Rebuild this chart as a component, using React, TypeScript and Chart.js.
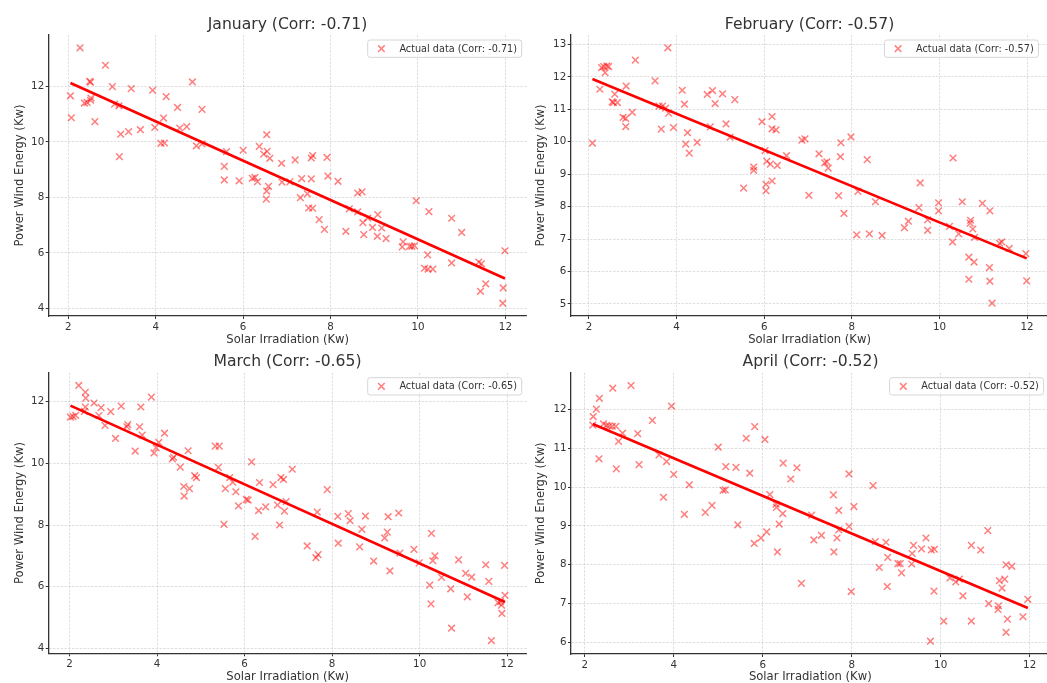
import React, { useEffect, useRef } from "react";
import { Chart, registerables } from "chart.js";

Chart.register(...registerables);

const FONT = "'DejaVu Sans', 'Noto Sans', sans-serif";
Chart.defaults.font.family = FONT;

// ---- Data: solar irradiation (x) vs wind power (y), per month ----
const janX = [2.27, 2.85, 2.05, 2.07, 2.49, 2.51, 2.37, 2.43, 2.51, 2.52, 2.61, 3.01, 3.06, 3.16, 3.2, 3.38, 3.17, 3.44, 3.65, 3.93, 3.98, 4.24, 4.18, 4.12, 4.2, 4.5, 4.55, 4.71, 4.84, 5.06, 4.93, 5.06, 5.57, 5.57, 5.62, 5.91, 6.0, 6.21, 6.27, 6.33, 6.37, 6.47, 6.54, 6.55, 6.61, 6.58, 6.54, 6.53, 6.88, 6.89, 7.07, 7.19, 7.34, 7.56, 7.59, 7.92, 7.56, 7.31, 7.47, 7.5, 7.59, 7.74, 7.86, 7.94, 8.17, 8.35, 8.43, 8.62, 8.62, 8.72, 8.74, 8.76, 8.85, 8.96, 9.08, 9.07, 9.17, 9.27, 9.66, 9.64, 9.81, 9.86, 9.92, 9.96, 10.25, 10.22, 10.15, 10.23, 10.34, 10.77, 11.0, 10.77, 11.39, 11.45, 11.43, 11.55, 11.99, 11.95, 11.94];
const janY = [13.39, 12.76, 11.66, 10.87, 12.18, 12.15, 11.4, 11.42, 11.5, 11.58, 10.73, 11.99, 11.36, 11.3, 10.28, 10.37, 9.47, 11.92, 10.44, 11.86, 10.52, 11.63, 10.86, 9.95, 9.96, 11.24, 10.5, 10.55, 12.16, 11.17, 9.86, 9.93, 9.12, 8.63, 9.65, 8.6, 9.7, 8.69, 8.72, 8.57, 9.84, 9.56, 10.26, 9.66, 9.41, 8.4, 8.23, 7.94, 9.23, 8.55, 8.56, 9.35, 8.68, 9.42, 9.51, 9.44, 8.67, 7.99, 8.13, 7.62, 7.61, 7.2, 6.85, 8.77, 8.58, 6.78, 7.59, 7.48, 8.16, 8.2, 7.09, 6.66, 7.26, 6.92, 7.38, 6.6, 6.9, 6.52, 6.4, 6.22, 6.24, 6.24, 6.26, 7.88, 7.49, 5.93, 5.45, 5.42, 5.42, 7.25, 6.74, 5.64, 5.67, 5.61, 4.62, 4.89, 6.08, 4.74, 4.19];

const febX = [2.08, 2.25, 2.29, 2.34, 2.37, 2.41, 2.45, 2.53, 2.59, 2.56, 2.65, 2.78, 2.84, 2.85, 2.84, 2.99, 3.06, 3.51, 3.8, 3.6, 3.68, 3.75, 3.82, 3.65, 3.93, 4.13, 4.18, 4.25, 4.21, 4.29, 4.47, 4.7, 4.82, 4.88, 5.05, 4.77, 5.13, 5.33, 5.22, 5.53, 5.76, 5.76, 5.95, 6.02, 6.06, 6.04, 6.04, 6.14, 6.18, 6.18, 6.27, 6.18, 6.3, 6.51, 6.86, 6.93, 7.02, 7.25, 7.38, 7.43, 7.46, 7.75, 7.74, 7.7, 7.82, 7.98, 8.14, 8.11, 8.35, 8.4, 8.54, 8.69, 9.2, 9.29, 9.53, 9.56, 9.73, 9.73, 9.98, 9.98, 10.3, 10.23, 10.31, 10.44, 10.52, 10.67, 10.67, 10.7, 10.71, 10.76, 10.8, 10.79, 10.98, 11.15, 11.14, 11.15, 11.2, 11.37, 11.42, 11.59, 11.97, 11.99];
const febY = [9.96, 11.62, 12.29, 12.32, 12.13, 12.34, 12.32, 11.23, 11.47, 11.21, 11.21, 10.75, 10.72, 11.72, 10.47, 10.91, 12.52, 11.88, 12.9, 11.1, 11.1, 11.04, 10.88, 10.39, 10.44, 11.59, 11.16, 10.28, 9.93, 9.65, 9.98, 11.46, 11.58, 11.18, 11.48, 10.46, 10.55, 11.3, 10.14, 8.57, 9.22, 9.12, 10.62, 9.73, 9.4, 8.69, 8.49, 9.31, 10.78, 10.4, 10.37, 8.79, 9.27, 9.57, 10.05, 10.09, 8.35, 9.63, 9.35, 9.38, 9.19, 9.97, 9.54, 8.34, 7.79, 10.15, 8.47, 7.13, 9.45, 7.16, 8.15, 7.11, 7.35, 7.55, 7.97, 8.73, 7.59, 7.27, 8.12, 7.87, 6.91, 7.39, 9.5, 7.16, 8.15, 6.44, 5.76, 7.49, 7.58, 7.31, 7.05, 6.29, 8.1, 7.87, 6.12, 5.7, 5.02, 6.87, 6.91, 6.71, 6.55, 5.71];

const marX = [2.02, 2.08, 2.14, 2.21, 2.36, 2.37, 2.36, 2.34, 2.56, 2.67, 2.72, 2.81, 2.94, 3.05, 3.18, 3.33, 3.31, 3.5, 3.6, 3.63, 3.66, 3.87, 3.93, 3.98, 4.04, 4.17, 4.35, 4.38, 4.53, 4.71, 4.61, 4.62, 4.74, 4.86, 4.9, 5.33, 5.42, 5.4, 5.53, 5.56, 5.66, 5.73, 5.8, 5.86, 6.04, 6.08, 6.16, 6.24, 6.32, 6.34, 6.48, 6.65, 6.75, 6.83, 6.89, 6.8, 6.91, 6.95, 7.09, 7.89, 7.43, 7.66, 7.63, 7.68, 8.13, 8.14, 8.37, 8.41, 8.68, 8.63, 8.76, 8.95, 9.2, 9.26, 9.28, 9.32, 9.52, 9.55, 9.87, 9.99, 10.27, 10.3, 10.35, 10.23, 10.26, 10.5, 10.71, 10.89, 10.73, 11.05, 11.19, 11.09, 11.51, 11.58, 11.64, 11.94, 11.95, 11.79, 11.85, 11.87, 11.88];
const marY = [11.5, 11.52, 11.56, 12.53, 12.31, 12.12, 11.83, 11.69, 11.96, 11.55, 11.81, 11.23, 11.68, 10.81, 11.86, 11.26, 11.19, 10.4, 11.19, 11.83, 10.92, 12.15, 10.34, 10.51, 10.68, 10.98, 10.15, 10.2, 9.88, 10.41, 9.25, 8.94, 9.18, 9.6, 9.54, 10.56, 10.56, 9.87, 8.02, 9.18, 9.54, 9.39, 9.08, 8.62, 8.83, 8.81, 10.05, 7.63, 8.47, 9.38, 8.59, 9.31, 8.65, 9.54, 9.48, 8.0, 8.45, 8.76, 9.81, 9.15, 7.32, 8.42, 6.94, 7.04, 8.28, 7.41, 8.37, 8.14, 7.86, 7.29, 8.29, 6.83, 7.58, 7.77, 8.27, 6.51, 8.39, 7.09, 7.21, 6.77, 7.73, 6.84, 7.0, 6.05, 5.44, 6.3, 5.93, 6.87, 4.65, 6.43, 6.31, 5.67, 6.71, 6.17, 4.25, 6.69, 5.72, 5.48, 5.51, 5.4, 5.13];

const aprX = [2.18, 2.19, 2.26, 2.33, 2.32, 2.42, 2.49, 2.55, 2.63, 2.62, 2.7, 2.71, 2.76, 2.85, 3.04, 3.19, 3.22, 3.52, 3.67, 3.77, 3.84, 3.95, 4.0, 4.24, 4.35, 4.71, 4.86, 5.0, 5.11, 5.16, 5.17, 5.4, 5.44, 5.63, 5.71, 5.82, 5.81, 5.96, 6.09, 6.05, 6.16, 6.3, 6.31, 6.37, 6.33, 6.45, 6.46, 6.63, 6.77, 6.87, 7.1, 7.15, 7.32, 7.59, 7.6, 7.67, 7.71, 7.71, 7.94, 7.94, 7.99, 8.05, 8.48, 8.53, 8.62, 8.77, 8.81, 8.8, 9.04, 9.09, 9.12, 9.36, 9.39, 9.35, 9.57, 9.67, 9.79, 9.86, 9.85, 9.77, 10.07, 10.21, 10.34, 10.42, 10.5, 10.69, 10.69, 10.9, 11.06, 11.08, 11.3, 11.29, 11.32, 11.38, 11.44, 11.47, 11.6, 11.5, 11.47, 11.85, 11.96];
const aprY = [11.6, 11.82, 12.01, 12.29, 10.73, 11.63, 11.59, 11.58, 12.55, 11.57, 11.57, 10.47, 11.18, 11.39, 12.62, 11.38, 10.58, 11.72, 10.83, 9.74, 10.66, 12.09, 10.33, 9.3, 10.06, 9.35, 9.53, 11.03, 9.92, 9.93, 10.53, 10.51, 9.03, 11.26, 10.36, 11.56, 8.55, 8.69, 8.85, 11.23, 9.81, 9.56, 9.48, 9.05, 8.33, 9.32, 10.62, 10.21, 10.5, 7.52, 9.28, 8.64, 8.76, 9.8, 8.33, 8.69, 9.4, 8.9, 10.34, 8.99, 7.31, 9.5, 10.04, 8.6, 7.93, 8.58, 8.19, 7.44, 8.03, 8.03, 7.79, 8.29, 8.5, 8.02, 8.41, 8.69, 8.38, 8.4, 7.32, 6.03, 6.55, 7.66, 7.56, 7.63, 7.2, 8.5, 6.55, 8.38, 8.88, 7.0, 6.94, 6.85, 7.59, 7.4, 7.63, 8.0, 7.96, 6.6, 6.26, 6.66, 7.11];

const monthNames = ["January", "February", "March", "April"];
const corrValues = ["-0.71", "-0.57", "-0.65", "-0.52"];
const xTicks = [2, 4, 6, 8, 10, 12];
const janYTicks = [4, 6, 8, 10, 12];
const febYTicks = [5, 6, 7, 8, 9, 10, 11, 12, 13];
const marYTicks = [4, 6, 8, 10, 12];
const aprYTicks = [6, 7, 8, 9, 10, 11, 12];

const xLabel = "Solar Irradiation (Kw)";
const yLabel = "Power Wind Energy (Kw)";

// ---- Layout (page pixels) ----
type Geo = {
  top: number; height: number; left: number;
  plot: { l: number; t: number; r: number; b: number };
  titleCY: number; xTitleCY: number; yTitleCX: number; legendInset: number;
};
const geos: Geo[] = [
  { left: 0, top: 0, height: 350, plot: { l: 48.7, t: 35, r: 526.7, b: 316 }, titleCY: 24.5, xTitleCY: 339.8, yTitleCX: 20, legendInset: 5 },
  { left: 528, top: 0, height: 350, plot: { l: 570.7, t: 35, r: 1048.4, b: 316 }, titleCY: 24.5, xTitleCY: 339.8, yTitleCX: 541.3, legendInset: 10 },
  { left: 0, top: 345, height: 338, plot: { l: 48.7, t: 372.7, r: 526.7, b: 653.3 }, titleCY: 362, xTitleCY: 677, yTitleCX: 20, legendInset: 5 },
  { left: 528, top: 345, height: 338, plot: { l: 571, t: 372.7, r: 1049.6, b: 654 }, titleCY: 362, xTitleCY: 677, yTitleCX: 541.3, legendInset: 6 },
];

const TEXT = "#333333";
const TITLE_SIZE = 15.6;
const AXIS_TITLE_SIZE = 11.6;
const TICK_SIZE = 10.3;
const LEGEND_SIZE = 9.7;
const POINT_COLOR = "rgba(255, 0, 0, 0.5)";

function fitLine(xs: number[], ys: number[]) {
  const n = xs.length;
  const mx = xs.reduce((a, b) => a + b, 0) / n;
  const my = ys.reduce((a, b) => a + b, 0) / n;
  let sxy = 0, sxx = 0;
  for (let i = 0; i < n; i++) {
    sxy += (xs[i] - mx) * (ys[i] - my);
    sxx += (xs[i] - mx) ** 2;
  }
  const slope = sxy / sxx;
  const icpt = my - slope * mx;
  const x0 = Math.min(...xs), x1 = Math.max(...xs);
  return [{ x: x0, y: icpt + slope * x0 }, { x: x1, y: icpt + slope * x1 }];
}

function paddedRange(vals: number[]) {
  const lo = Math.min(...vals), hi = Math.max(...vals);
  const m = (hi - lo) * 0.05;
  return [lo - m, hi + m];
}

// Boxed legend drawn inside the top-right corner of the plot area
const cornerLegend = {
  id: "cornerLegend",
  afterDatasetsDraw(chart: any, _args: any, opts: any) {
    if (!opts || !opts.text) return;
    const { ctx, chartArea } = chart;
    ctx.save();
    ctx.font = `${LEGEND_SIZE}px ${FONT}`;
    const tw = ctx.measureText(opts.text).width;
    const h = 17.3;
    const w = 31.7 + tw + 4.7;
    const x = chartArea.right - opts.inset - w;
    const y = chartArea.top + 5;
    ctx.beginPath();
    ctx.roundRect(x, y, w, h, 2.5);
    ctx.fillStyle = "rgba(255,255,255,0.8)";
    ctx.fill();
    ctx.strokeStyle = "#d6d6d6";
    ctx.lineWidth = 1;
    ctx.stroke();
    const mx = x + 13.7, my = y + h / 2, a = 3.3;
    ctx.strokeStyle = POINT_COLOR;
    ctx.lineWidth = 1.5;
    ctx.beginPath();
    ctx.moveTo(mx - a, my - a); ctx.lineTo(mx + a, my + a);
    ctx.moveTo(mx - a, my + a); ctx.lineTo(mx + a, my - a);
    ctx.stroke();
    ctx.fillStyle = TEXT;
    ctx.textBaseline = "middle";
    ctx.textAlign = "left";
    ctx.fillText(opts.text, x + 31.7, my + 0.5);
    ctx.restore();
  },
};

function ScatterPanel(props: { xs: number[]; ys: number[]; yTicks: number[]; month: string; corr: string; geo: Geo }) {
  const { xs, ys, yTicks, month, corr, geo } = props;
  const ref = useRef<HTMLCanvasElement>(null);
  const center = (geo.plot.l + geo.plot.r) / 2;
  // whole-pixel canvas width, roughly symmetric around the plot centre
  const width = Math.round(2 * (center - geo.left));
  const height = geo.height;

  useEffect(() => {
    const canvas = ref.current;
    if (!canvas) return;
    const [xMin, xMax] = paddedRange(xs);
    const [yMin, yMax] = paddedRange(ys);
    const pts = xs.map((x, i) => ({ x, y: ys[i] }));
    const line = fitLine(xs, ys);

    const yAxisW = geo.plot.l - geo.left;
    const rightW = geo.left + width - geo.plot.r;
    const xAxisH = geo.top + height - geo.plot.b;
    const titleLH = TITLE_SIZE * 1.2;
    const titleTop = geo.titleCY - geo.top - titleLH / 2;
    const titleBottom = geo.plot.t - geo.top - titleLH - titleTop;
    const axisLH = AXIS_TITLE_SIZE * 1.2;

    const chart = new Chart(canvas, {
      type: "scatter",
      data: {
        datasets: [
          {
            type: "line",
            data: line,
            borderColor: "#ff0000",
            borderWidth: 2.6,
            pointRadius: 0,
            fill: false,
            order: 0,
          } as any,
          {
            data: pts,
            pointStyle: "crossRot",
            pointRadius: 4.7,
            pointBorderWidth: 1.5,
            borderColor: POINT_COLOR,
            backgroundColor: POINT_COLOR,
            order: 1,
          } as any,
        ],
      },
      options: {
        animation: false,
        responsive: false,
        events: [],
        layout: { padding: 0 },
        plugins: {
          legend: { display: false },
          tooltip: { enabled: false },
          title: {
            display: true,
            text: `${month} (Corr: ${corr})`,
            color: TEXT,
            font: { size: TITLE_SIZE, weight: "normal", family: FONT },
            padding: { top: titleTop, bottom: titleBottom },
          },
          cornerLegend: { text: `Actual data (Corr: ${corr})`, inset: geo.legendInset },
        } as any,
        scales: {
          x: {
            type: "linear",
            position: "bottom",
            min: xMin,
            max: xMax,
            afterBuildTicks: (s: any) => { s.ticks = xTicks.map((v) => ({ value: v })); },
            afterFit: (s: any) => { s.height = xAxisH; },
            grid: { color: "rgba(180,180,180,0.55)", lineWidth: 0.8, tickLength: 3, tickColor: TEXT, tickWidth: 1 },
            border: { display: true, color: TEXT, width: 1.3, dash: [2.4, 1.4] },
            ticks: { color: TEXT, font: { size: TICK_SIZE }, padding: 2, maxRotation: 0 },
            title: {
              display: true,
              text: xLabel,
              color: TEXT,
              font: { size: AXIS_TITLE_SIZE },
              padding: { top: 0, bottom: geo.top + height - geo.xTitleCY - axisLH / 2 },
            },
          },
          y: {
            type: "linear",
            position: "left",
            min: yMin,
            max: yMax,
            afterBuildTicks: (s: any) => { s.ticks = yTicks.map((v) => ({ value: v })); },
            afterFit: (s: any) => { s.width = yAxisW; },
            grid: { color: "rgba(180,180,180,0.55)", lineWidth: 0.8, tickLength: 3, tickColor: TEXT, tickWidth: 1 },
            border: { display: true, color: TEXT, width: 1.3, dash: [2.4, 1.4] },
            ticks: { color: TEXT, font: { size: TICK_SIZE }, padding: 1.5 },
            title: {
              display: true,
              text: yLabel,
              color: TEXT,
              font: { size: AXIS_TITLE_SIZE },
              padding: { top: geo.yTitleCX - geo.left - axisLH / 2, bottom: 0 },
            },
          },
          // blank right-hand spacer so the centred title sits over the
          // middle of the plot area
          spacer: {
            type: "linear",
            position: "right",
            display: true,
            grid: { display: false, drawTicks: false },
            border: { display: false },
            ticks: { display: false },
            afterFit: (s: any) => { s.width = rightW; },
          },
        },
      } as any,
      plugins: [cornerLegend],
    });
    return () => chart.destroy();
  }, []);

  return (
    <canvas
      ref={ref}
      width={width}
      height={height}
      style={{ position: "absolute", left: geo.left, top: geo.top, width, height }}
    />
  );
}

const monthXs = [janX, febX, marX, aprX];
const monthYs = [janY, febY, marY, aprY];
const monthYTicks = [janYTicks, febYTicks, marYTicks, aprYTicks];

export default function App() {
  return (
    <div
      style={{
        position: "fixed",
        left: 0,
        top: 0,
        width: 1047,
        height: 683,
        overflow: "hidden",
        background: "#ffffff",
      }}
    >
      {monthNames.map((m, i) => (
        <ScatterPanel
          key={m}
          xs={monthXs[i]}
          ys={monthYs[i]}
          yTicks={monthYTicks[i]}
          month={m}
          corr={corrValues[i]}
          geo={geos[i]}
        />
      ))}
    </div>
  );
}
